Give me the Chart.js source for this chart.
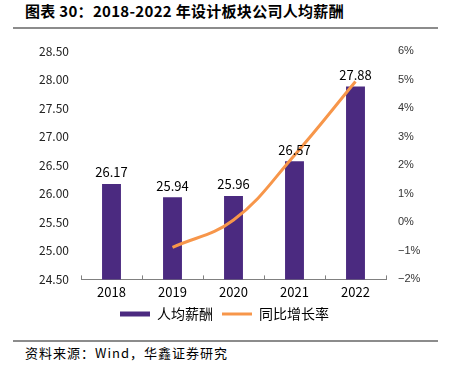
<!DOCTYPE html>
<html>
<head>
<meta charset="utf-8">
<script src="https://cdn.jsdelivr.net/npm/chart.js@4.4.1/dist/chart.umd.min.js"></script>
<style>
  body { margin: 0; background: #fff; width: 449px; height: 365px; position: relative; overflow: hidden; font-family: "Noto Sans CJK SC", sans-serif; }
  #title { position: absolute; left: 25px; top: 0px; font-size: 15px; font-weight: bold; letter-spacing: 0.3px; color: #000; white-space: nowrap; }
  .rule { position: absolute; left: 13px; width: 425px; height: 0; border-top: 2px solid #8c8c8c; }
  #source { position: absolute; left: 25px; top: 343px; font-size: 13px; letter-spacing: 1px; color: #000; white-space: nowrap; }
  #wrap { position: absolute; left: 0; top: 30px; width: 449px; height: 301px; }
</style>
</head>
<body>
<div id="title">图表 30：2018-2022 年设计板块公司人均薪酬</div>
<div class="rule" style="top:27px"></div>
<div id="wrap"><canvas id="chart"></canvas></div>
<div class="rule" style="top:340px"></div>
<div id="source">资料来源：Wind，华鑫证券研究</div>
<script>
        const years = ['2018', '2019', '2020', '2021', '2022'];
        const avgPay = [26.17, 25.94, 25.96, 26.57, 27.88];
        const growthRate = [null, -0.88, 0.08, 2.35, 4.93];

        const barColor = '#4b2a80';
        const lineColor = '#f7964a';

        // value labels above the bars
        const barLabels = {
            id: 'barLabels',
            afterDatasetsDraw(chart) {
                const ctx = chart.ctx;
                const meta = chart.getDatasetMeta(1);
                ctx.save();
                ctx.font = '13px "Noto Sans CJK SC", sans-serif';
                ctx.fillStyle = '#000';
                ctx.textAlign = 'center';
                ctx.textBaseline = 'bottom';
                meta.data.forEach((bar, i) => {
                    ctx.fillText(avgPay[i].toFixed(2), bar.x, bar.y - 5);
                });
                ctx.restore();
            }
        };

        // small tick marks pointing up from the x axis
        const innerTicks = {
            id: 'innerTicks',
            afterDraw(chart) {
                const ctx = chart.ctx;
                const x = chart.scales.x;
                ctx.save();
                ctx.strokeStyle = '#808080';
                ctx.lineWidth = 1;
                for (let i = 0; i <= years.length; i++) {
                    const px = Math.round(x.getPixelForValue(i - 0.5)) + 0.5;
                    ctx.beginPath();
                    ctx.moveTo(px, x.top - 4);
                    ctx.lineTo(px, x.top);
                    ctx.stroke();
                }
                ctx.restore();
            }
        };

        new Chart(document.getElementById('chart'), {
            data: {
                labels: years,
                datasets: [
                    {
                        type: 'line',
                        label: '同比增长率',
                        data: growthRate,
                        yAxisID: 'y1',
                        borderColor: lineColor,
                        backgroundColor: lineColor,
                        borderWidth: 3,
                        pointRadius: 0,
                        tension: 0.4,
                        order: 0
                    },
                    {
                        type: 'bar',
                        label: '人均薪酬',
                        data: avgPay,
                        yAxisID: 'y',
                        backgroundColor: barColor,
                        barPercentage: 0.31,
                        categoryPercentage: 1,
                        order: 1
                    }
                ]
            },
            options: {
                responsive: true,
                maintainAspectRatio: false,
                animation: false,
                layout: { padding: { top: 21, left: 0, right: 0, bottom: 0 } },
                plugins: {
                    tooltip: { enabled: false },
                    legend: {
                        position: 'bottom',
                        labels: {
                            usePointStyle: true,
                            pointStyleWidth: 30,
                            boxHeight: 5,
                            padding: 2,
                            color: '#000',
                            font: { family: '"Noto Sans CJK SC", sans-serif', size: 14 },
                            generateLabels(chart) {
                                // en space after the first label widens the gap between items
                                return [
                                    { text: '人均薪酬\u2002', fillStyle: barColor, strokeStyle: barColor, lineWidth: 0, pointStyle: 'rect', datasetIndex: 1 },
                                    { text: '同比增长率', fillStyle: lineColor, strokeStyle: lineColor, lineWidth: 3, pointStyle: 'line', datasetIndex: 0 }
                                ];
                            }
                        }
                    }
                },
                scales: {
                    x: {
                        grid: { display: false, drawTicks: false },
                        border: { display: true, color: '#808080', width: 1 },
                        ticks: { color: '#000', padding: 5, font: { family: '"Noto Sans CJK SC", sans-serif', size: 13 } }
                    },
                    y: {
                        position: 'left',
                        min: 24.5,
                        max: 28.5,
                        grid: { display: false, drawTicks: false },
                        border: { display: false },
                        ticks: {
                            stepSize: 0.5,
                            padding: 12,
                            color: '#222',
                            font: { family: '"Noto Sans CJK SC", sans-serif', size: 12 },
                            callback: v => v.toFixed(2)
                        },
                        afterFit(scale) { scale.width = 81; }
                    },
                    y1: {
                        position: 'right',
                        min: -2,
                        max: 6,
                        grid: { display: false, drawTicks: false },
                        border: { display: false },
                        ticks: {
                            stepSize: 1,
                            padding: 12,
                            color: '#333',
                            font: { family: '"Liberation Sans", Arial, sans-serif', size: 11 },
                            callback: v => (v < 0 ? '\u2212' + Math.abs(v) : v) + '%'
                        },
                        afterFit(scale) { scale.width = 63; }
                    }
                }
            },
            plugins: [barLabels, innerTicks]
        });
</script>
</body>
</html>
